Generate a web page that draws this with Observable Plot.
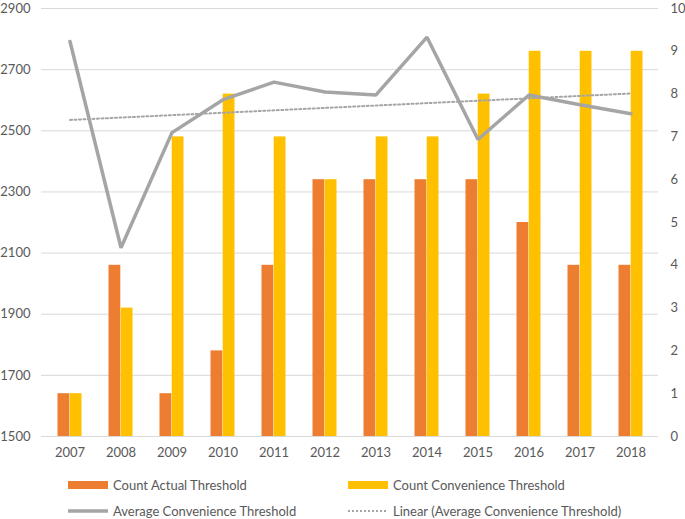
<!DOCTYPE html>
<html>
<head>
<meta charset="utf-8">
<script src="https://cdn.jsdelivr.net/npm/d3@7"></script>
<script src="https://cdn.jsdelivr.net/npm/@observablehq/plot@0.6"></script>
<style>
  body { margin: 0; background: #fff; font-family: Lato, "Open Sans", sans-serif; }
  #wrap { position: relative; width: 685px; height: 519px; }
  .leg { position: absolute; display: flex; align-items: center; font-size: 13px; color: #595959; white-space: nowrap; }
  .sw { width: 40px; margin-right: 5px; }
</style>
</head>
<body>
<div id="wrap">
  <div id="chart"></div>
  <div class="leg" style="left:68px; top:477px;"><div class="sw" style="height:8px;background:#ED7D31"></div>Count Actual Threshold</div>
  <div class="leg" style="left:348px; top:477px;"><div class="sw" style="height:8px;background:#FFC000"></div>Count Convenience Threshold</div>
  <div class="leg" style="left:68px; top:503px;"><svg class="sw" width="40" height="8"><line x1="0" x2="40" y1="4" y2="4" stroke="#A5A5A5" stroke-width="3.5"/></svg>Average Convenience Threshold</div>
  <div class="leg" style="left:348px; top:503px;"><svg class="sw" width="40" height="8"><line x1="0" x2="40" y1="4" y2="4" stroke="#A5A5A5" stroke-width="2" stroke-dasharray="2,2"/></svg>Linear (Average Convenience Threshold)</div>
</div>
<script>
const years = ["2007","2008","2009","2010","2011","2012","2013","2014","2015","2016","2017","2018"];
const countActual = [1640,2060,1640,1780,2060,2340,2340,2340,2340,2200,2060,2060];
const countConvenience = [1640,1920,2480,2620,2480,2340,2480,2480,2620,2760,2760,2760];
const avgConvenience = [9.23,4.41,7.10,7.87,8.28,8.05,7.98,9.33,6.94,7.98,7.75,7.54];
const leftTicks = [1500,1700,1900,2100,2300,2500,2700,2900];
const rightTicks = [0,1,2,3,4,5,6,7,8,9,10];

// right axis (0..10) mapped onto left scale (1500..2900)
const toLeft = v => 1500 + v * 140;
const fromLeft = d => String(Math.round((d - 1500) / 140));

const bars = years.map((year, i) => ({year, actual: countActual[i], conv: countConvenience[i]}));
const line = years.map((year, i) => ({year, v: toLeft(avgConvenience[i])}));

// least-squares trend over index
const n = avgConvenience.length;
const xs = d3.range(n);
const mx = d3.mean(xs), my = d3.mean(avgConvenience);
const slope = d3.sum(xs, (x, i) => (x - mx) * (avgConvenience[i] - my)) / d3.sum(xs, x => (x - mx) ** 2);
const icpt = my - slope * mx;
const trend = [{year: years[0], v: toLeft(icpt)}, {year: years[n - 1], v: toLeft(icpt + slope * (n - 1))}];

const chart = Plot.plot({
  width: 685,
  height: 465,
  marginTop: 8,
  marginBottom: 29,
  marginLeft: 41,
  marginRight: 27,
  style: {fontFamily: "Lato, 'Open Sans', sans-serif", fontSize: "13px", color: "#595959", background: "#fff"},
  x: {domain: years, padding: 0, label: null},
  y: {domain: [1500, 2900], label: null},
  marks: [
    Plot.gridY(leftTicks, {stroke: "#d9d9d9", strokeOpacity: 1, strokeWidth: 1}),
    Plot.barY(bars, {x: "year", y1: 1500, y2: "actual", fill: "#ED7D31", insetLeft: 13.5, insetRight: 25.7}),
    Plot.barY(bars, {x: "year", y1: 1500, y2: "conv", fill: "#FFC000", insetLeft: 25.7, insetRight: 13.5}),
    Plot.line(trend, {x: "year", y: "v", stroke: "#A5A5A5", strokeWidth: 2, strokeDasharray: "2,2.5"}),
    Plot.line(line, {x: "year", y: "v", stroke: "#A5A5A5", strokeWidth: 3.5, strokeLinejoin: "miter"}),
    Plot.axisY(leftTicks, {anchor: "left", tickSize: 0, tickPadding: 11, label: null, tickFormat: d => String(d), fill: "#595959"}),
    Plot.axisY(rightTicks.map(toLeft), {anchor: "right", tickSize: 0, tickPadding: 12, label: null, tickFormat: fromLeft, fill: "#595959"}),
    Plot.axisX({tickSize: 0, tickPadding: 11, label: null, fill: "#595959"})
  ]
});
document.getElementById("chart").appendChild(chart);
</script>
</body>
</html>
